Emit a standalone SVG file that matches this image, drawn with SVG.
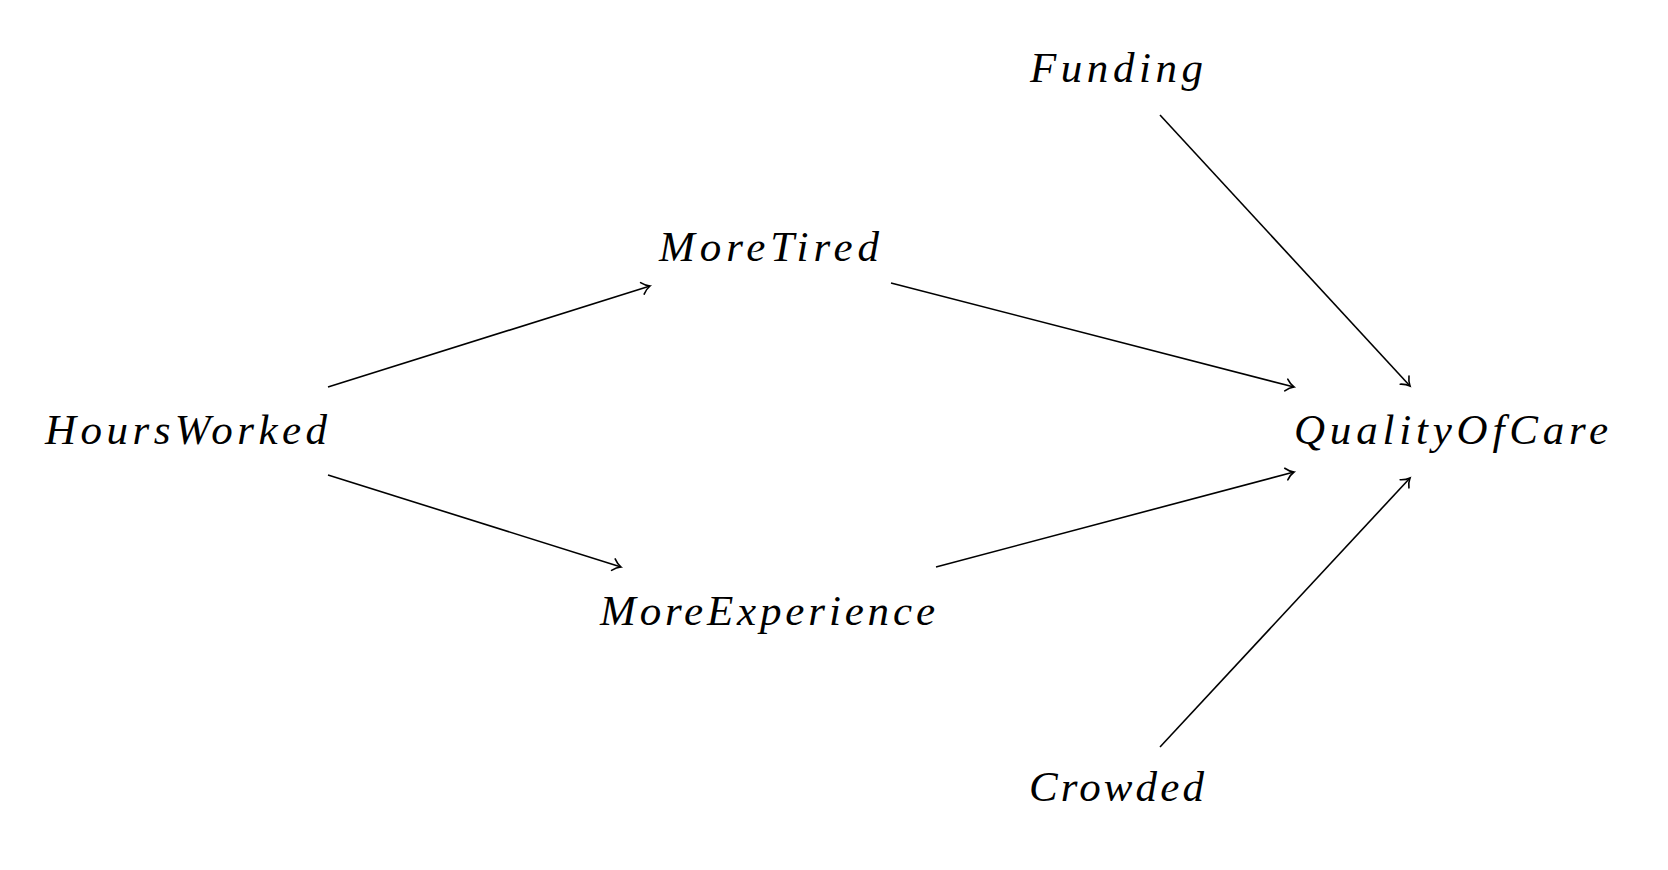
<svg xmlns="http://www.w3.org/2000/svg" width="1668" height="870" viewBox="0 0 1668 870">
<defs>
<style>
.lbl{font-family:"Liberation Serif","DejaVu Serif",serif;font-style:italic;font-size:43px;fill:#000;}
.edge{stroke:#000;stroke-width:1.6;fill:none;marker-end:url(#arr);}
</style>
<marker id="arr" markerUnits="userSpaceOnUse" markerWidth="20" markerHeight="20" viewBox="-10 -10 20 20" refX="0" refY="0" orient="auto">
<path d="M -8 -6 C -5 -2.5 -1.5 -0.6 0 0 C -1.5 0.6 -5 2.5 -8 6" stroke="#000" stroke-width="1.6" fill="none" stroke-linecap="round"/>
</marker>
</defs>
<rect width="1668" height="870" fill="#fff"/>
<g id="connectors">
<line class="edge" x1="328" y1="387" x2="650" y2="286"/>
<line class="edge" x1="328" y1="475" x2="621" y2="567"/>
<line class="edge" x1="891" y1="283" x2="1294" y2="387"/>
<line class="edge" x1="936" y1="567" x2="1294" y2="472"/>
<line class="edge" x1="1160" y1="115" x2="1410" y2="386"/>
<line class="edge" x1="1160" y1="747" x2="1410" y2="478"/>
</g>
<g id="HoursWorked"><text class="lbl" x="45" y="444" textLength="282" lengthAdjust="spacing">HoursWorked</text></g>
<g id="MoreTired"><text class="lbl" x="659" y="261" textLength="220" lengthAdjust="spacing">MoreTired</text></g>
<g id="MoreExperience"><text class="lbl" x="600" y="625" textLength="335" lengthAdjust="spacing">MoreExperience</text></g>
<g id="Funding"><text class="lbl" x="1030" y="82" textLength="173" lengthAdjust="spacing">Funding</text></g>
<g id="Crowded"><text class="lbl" x="1029" y="801" textLength="175" lengthAdjust="spacing">Crowded</text></g>
<g id="QualityOfCare"><text class="lbl" x="1294" y="444" textLength="314" lengthAdjust="spacing">QualityOfCare</text></g>
</svg>
